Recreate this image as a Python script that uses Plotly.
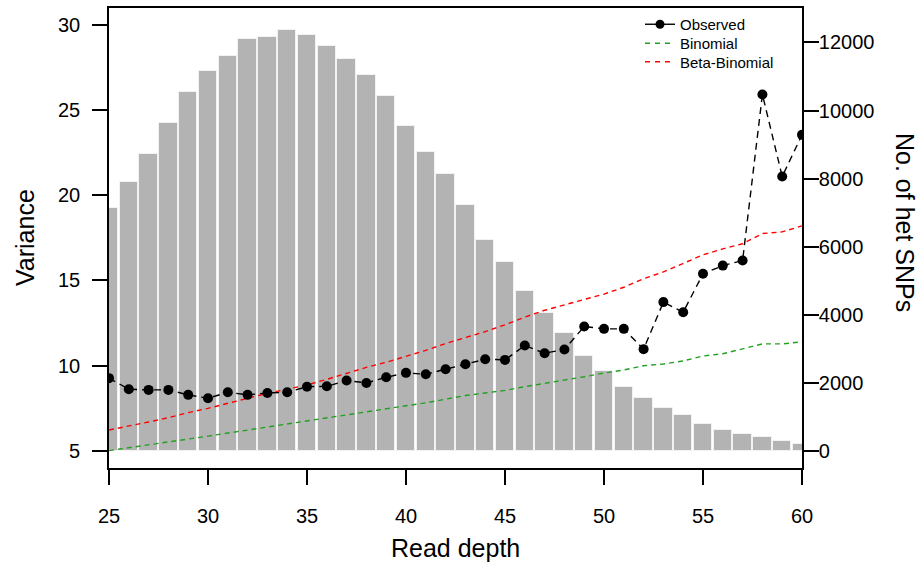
import plotly.graph_objects as go

# ---- data ----
read_depth = [25, 26, 27, 28, 29, 30, 31, 32, 33, 34, 35, 36, 37, 38, 39, 40, 41, 42,
              43, 44, 45, 46, 47, 48, 49, 50, 51, 52, 53, 54, 55, 56, 57, 58, 59, 60]
het_snps = [7126, 7900, 8735, 9626, 10559, 11156, 11588, 12097, 12147, 12371, 12206, 11900,
            11500, 11047, 10429, 9538, 8782, 8126, 7215, 6215, 5559, 4706, 4059, 3471,
            2794, 2353, 1891, 1568, 1265, 1059, 803, 626, 500, 412, 303, 215]
observed = [9.27, 8.62, 8.58, 8.58, 8.29, 8.09, 8.44, 8.29, 8.40, 8.44, 8.77, 8.79,
            9.13, 8.99, 9.32, 9.58, 9.50, 9.79, 10.09, 10.38, 10.34, 11.18, 10.73, 10.95,
            12.30, 12.16, 12.16, 10.97, 13.73, 13.14, 15.39, 15.87, 16.17, 25.91, 21.10, 23.54]
binomial = [5.02, 5.18, 5.35, 5.52, 5.70, 5.87, 6.05, 6.22, 6.43, 6.60, 6.78, 6.95,
            7.12, 7.31, 7.48, 7.65, 7.82, 8.05, 8.25, 8.40, 8.55, 8.77, 8.95, 9.15,
            9.35, 9.57, 9.75, 10.00, 10.10, 10.28, 10.57, 10.70, 10.97, 11.28, 11.28, 11.40]
beta_binomial = [6.23, 6.45, 6.70, 6.95, 7.25, 7.50, 7.80, 8.10, 8.38, 8.62, 8.87, 9.20,
                 9.55, 9.90, 10.20, 10.55, 10.90, 11.30, 11.65, 12.00, 12.40, 12.85, 13.25, 13.57,
                 13.90, 14.20, 14.60, 15.10, 15.50, 16.00, 16.50, 16.85, 17.15, 17.75, 17.85, 18.20]

x_ticks = [25, 30, 35, 40, 45, 50, 55, 60]
var_ticks = [5, 10, 15, 20, 25, 30]
snp_ticks = [0, 2000, 4000, 6000, 8000, 10000, 12000]

FONT = "Liberation Sans, Arial, Helvetica, sans-serif"
GREEN = "#22a022"
RED = "#ff0000"

# page geometry (pixels)
W, H = 924, 569
L, R, T, B = 109, 122, 8, 101
pw, ph = W - L - R, H - T - B


def px_x(x):
    return (x - L) / pw


def px_y(y):
    return (H - B - y) / ph


fig = go.Figure()

# histogram bars (right axis)
fig.add_trace(go.Bar(x=read_depth, y=het_snps, width=0.92,
                     marker=dict(color="#b3b3b3", line=dict(color="#f2f2f2", width=1)),
                     yaxis="y", showlegend=False, hoverinfo="skip"))

# variance lines (left axis)
fig.add_trace(go.Scatter(x=read_depth, y=binomial, mode="lines", yaxis="y2",
                         line=dict(color=GREEN, width=1.4, dash="5px,4px"), showlegend=False))
fig.add_trace(go.Scatter(x=read_depth, y=beta_binomial, mode="lines", yaxis="y2",
                         line=dict(color=RED, width=1.4, dash="5px,4px"), showlegend=False))
fig.add_trace(go.Scatter(x=read_depth, y=observed, mode="lines+markers", yaxis="y2",
                         line=dict(color="black", width=1.4, dash="7px,5px"),
                         marker=dict(color="black", size=10), showlegend=False))

# legend entries (one legend per row so rows can sit as tightly as in the reference)
fig.add_trace(go.Scatter(x=[None], y=[None], mode="lines+markers", name="Observed", yaxis="y2",
                         line=dict(color="black", width=1.4), marker=dict(color="black", size=9),
                         legend="legend"))
fig.add_trace(go.Scatter(x=[None], y=[None], mode="lines", name="Binomial", yaxis="y2",
                         line=dict(color=GREEN, width=1.4, dash="5px,5px"), legend="legend2"))
fig.add_trace(go.Scatter(x=[None], y=[None], mode="lines", name="Beta-Binomial", yaxis="y2",
                         line=dict(color=RED, width=1.4, dash="5px,5px"), legend="legend3"))

axis_common = dict(showgrid=False, zeroline=False, showline=True, linecolor="black",
                   linewidth=1.6, ticks="outside", ticklen=15, tickwidth=1.5,
                   tickcolor="black", tickfont=dict(family=FONT, size=20, color="black"))

leg_x = px_x(640)
row_centers = [26, 45, 63.5]


def leg(yc):
    return dict(x=leg_x, y=px_y(yc - 18), xanchor="left", yanchor="top",
                bgcolor="rgba(0,0,0,0)", font=dict(family=FONT, size=15, color="black"),
                itemwidth=30)


fig.update_layout(
    width=W, height=H,
    margin=dict(l=L, r=R, t=T, b=B, autoexpand=False),
    paper_bgcolor="white", plot_bgcolor="white",
    font=dict(family=FONT, color="black"),
    bargap=0,
    xaxis=dict(range=[25, 60], tickvals=x_ticks, mirror=True, ticklabelstandoff=14,
               automargin=False, **axis_common),
    yaxis=dict(range=[-490, 13010], side="right", tickvals=snp_ticks, tickformat="d",
               ticklabelstandoff=-4, automargin=False, **axis_common),
    yaxis2=dict(range=[4.0, 30.98], side="left", overlaying="y", tickvals=var_ticks,
                ticklabelstandoff=8, automargin=False, **axis_common),
    legend=leg(row_centers[0]),
    legend2=leg(row_centers[1]),
    legend3=leg(row_centers[2]),
    annotations=[
        dict(text="Read depth", x=px_x(455), y=px_y(548), xref="paper", yref="paper",
             xanchor="center", yanchor="middle", showarrow=False,
             font=dict(family=FONT, size=25)),
        dict(text="Variance", x=px_x(25), y=px_y(238), xref="paper", yref="paper",
             xanchor="center", yanchor="middle", showarrow=False, textangle=-90,
             font=dict(family=FONT, size=25)),
        dict(text="No. of het SNPs", x=px_x(905), y=px_y(222), xref="paper", yref="paper",
             xanchor="center", yanchor="middle", showarrow=False, textangle=90,
             font=dict(family=FONT, size=25)),
    ],
)

fig.write_html("out.html", config={"displayModeBar": False},
               post_script="document.body.style.margin='0';")
